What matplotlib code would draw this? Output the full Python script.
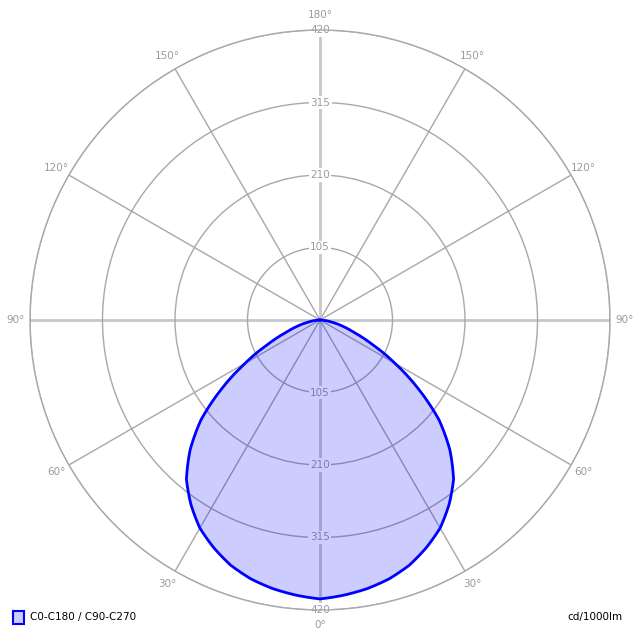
import numpy as np
import matplotlib
matplotlib.use("Agg")
import matplotlib.pyplot as plt
from matplotlib.patches import Rectangle

# luminous intensity (cd/1000lm) vs gamma angle, C0-C180 and C90-C270 coincide
gamma = [0, 5, 10, 15, 20, 25, 30, 35, 40, 45, 50, 55, 60, 65, 70, 75, 80, 85, 90]
intensity = [404, 400, 395, 388, 378, 364, 348, 326, 301, 266, 225, 174, 125, 83, 52, 33, 17, 6, 0]

ring_values = [105, 210, 315, 420]
angle_ticks = [0, 30, 60, 90, 120, 150, 180, 210, 240, 270, 300, 330]
angle_labels = ['0°', '30°', '60°', '90°', '120°', '150°', '180°',
                '150°', '120°', '90°', '60°', '30°']

grey_txt = '#9a9a9a'

fig = plt.figure(figsize=(6.4, 6.4), dpi=100)
ax = fig.add_axes([30/640, 30/640, 580/640, 580/640], projection='polar')
ax.set_theta_zero_location('S')
ax.set_ylim(0, 420)
ax.set_axisbelow(True)

# grid
ax.set_thetagrids(angle_ticks, angle_labels, color=grey_txt, fontsize=7.5)
ax.tick_params(axis='x', pad=0)
ax.set_rgrids(ring_values, [''] * len(ring_values))
for i, gl in enumerate(ax.xaxis.get_gridlines()):
    if angle_ticks[i] % 90 == 0:
        gl.set_color('#c8c8c8')
        gl.set_linewidth(2)
    else:
        gl.set_color('#a8a8a8')
        gl.set_linewidth(1)
    gl.set_linestyle('-')
for gl in ax.yaxis.get_gridlines():
    gl.set_color('#a8a8a8')
    gl.set_linewidth(1)
    gl.set_linestyle('-')
ax.spines['polar'].set_color('#a8a8a8')
ax.spines['polar'].set_linewidth(1)

# radial value labels on the vertical axis
for v in ring_values:
    for th in (0, np.pi):
        ax.text(th, v, str(v), ha='center', va='center', fontsize=7.5,
                color=grey_txt, zorder=1,
                bbox=dict(boxstyle='square,pad=0.15', fc='white', ec='none'))

# curve, mirrored on both sides of nadir
g = np.array(gamma, dtype=float)
iv = np.array(intensity, dtype=float)
theta = np.radians(np.concatenate([-g[::-1], g[1:]]))
r = np.concatenate([iv[::-1], iv[1:]])
polys = ax.fill(theta, r, color='blue', alpha=0.2, lw=0, zorder=2)
lines = ax.plot(theta, r, color='blue', lw=2, zorder=3)
# let the polar transform draw segments as curves in (theta, r)
for p in polys:
    p.get_path()._interpolation_steps = 20
for ln in lines:
    ln.get_path()._interpolation_steps = 20

# legend and unit
fig.patches.append(Rectangle((13/640, 16/640), 11/640, 13/640, transform=fig.transFigure,
                             fc='#ccccff', ec='blue', lw=1.5))
fig.text(30/640, 23/640, 'C0-C180 / C90-C270', fontsize=7.5, va='center', ha='left')
fig.text(623/640, 23/640, 'cd/1000lm', fontsize=7.5, va='center', ha='right')

plt.savefig('out.png', dpi=100)
